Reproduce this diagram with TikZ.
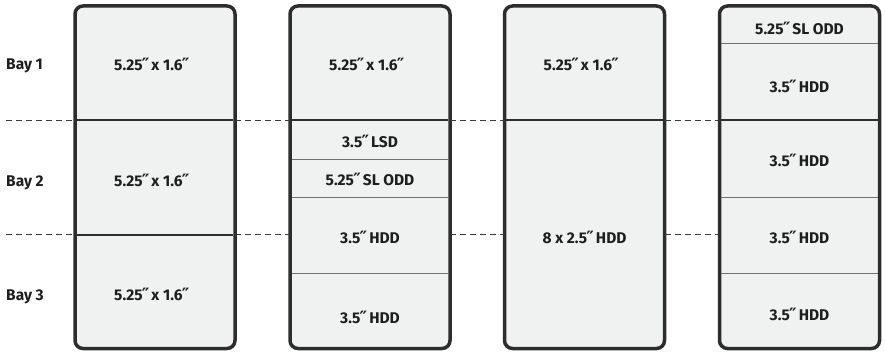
\documentclass[tikz,border=0pt]{standalone}
\usepackage{fontspec}
\setmainfont{Fira Sans}
\newfontfamily\quotefont{DejaVu Sans}
\definecolor{bordercol}{HTML}{2D2D2D}
\definecolor{boxfill}{HTML}{F0F1F1}
\definecolor{thincol}{HTML}{707070}
\definecolor{dashcol}{HTML}{3A3A3A}
\definecolor{textcol}{HTML}{1E1E1E}
\newcommand{\dq}{{\quotefont\bfseries\fontsize{17}{17}\selectfont\kern-0.8pt ″\kern-1.6pt}}
\begin{document}
\begin{tikzpicture}[x=1pt,y=-1pt,
  colbox/.style={draw=bordercol, fill=boxfill, line width=3.5pt, rounded corners=8pt,
    minimum width=160pt, minimum height=342.5pt, inner sep=0pt, outer sep=0pt},
  bayline/.style={draw=bordercol, line width=2pt, shorten <=1.75pt, shorten >=1.75pt},
  thinline/.style={draw=thincol, line width=1pt, shorten <=1.75pt, shorten >=1.75pt},
  dashline/.style={draw=dashcol, line width=1pt, dash pattern=on 6pt off 4pt},
  lbl/.style={anchor=base, font=\bfseries\fontsize{15.5}{17}\selectfont, text=textcol, inner sep=0pt},
  baylbl/.style={lbl, anchor=base west},
]
\useasboundingbox (0,0) rectangle (885,352);

% columns
\node[colbox] (c1) at (155,177.25) {};
\node[colbox] (c2) at (370,177.25) {};
\node[colbox] (c3) at (584.5,177.25) {};
\node[colbox] (c4) at (799.5,177.25) {};

% reference heights
\coordinate (b1) at (6,120.5);
\coordinate (b2) at (6,234.8);
\coordinate (t43) at (0,43.5);
\coordinate (t159) at (0,159.2);
\coordinate (t197) at (0,197.3);
\coordinate (t273) at (0,273.2);

% dashed bay separators
\draw[dashline] (b1) -- (c1.west |- b1);
\draw[dashline] (c1.east |- b1) -- (c2.west |- b1);
\draw[dashline] (c2.east |- b1) -- (c3.west |- b1);
\draw[dashline] (c3.east |- b1) -- (c4.west |- b1);
\draw[dashline] (b2) -- (c1.west |- b2);
\draw[dashline] (c1.east |- b2) -- (c2.west |- b2);
\draw[dashline] (c2.east |- b2) -- (c3.west |- b2);
\draw[dashline] (c3.east |- b2) -- (c4.west |- b2);

% inner dividers
\draw[bayline] (c1.west |- b1) -- (c1.east |- b1);
\draw[bayline] (c1.west |- b2) -- (c1.east |- b2);
\draw[bayline] (c2.west |- b1) -- (c2.east |- b1);
\draw[thinline] (c2.west |- t159) -- (c2.east |- t159);
\draw[thinline] (c2.west |- t197) -- (c2.east |- t197);
\draw[thinline] (c2.west |- t273) -- (c2.east |- t273);
\draw[bayline] (c3.west |- b1) -- (c3.east |- b1);
\draw[thinline] (c4.west |- t43) -- (c4.east |- t43);
\draw[bayline] (c4.west |- b1) -- (c4.east |- b1);
\draw[thinline] (c4.west |- t197) -- (c4.east |- t197);
\draw[thinline] (c4.west |- t273) -- (c4.east |- t273);

% bay labels
\node[baylbl] (bay1) at (6,70) {Bay 1};
\node[baylbl] (bay2) at (6,187) {Bay 2};
\node[baylbl] (bay3) at (6,300.5) {Bay 3};

% column 1
\node[lbl] (c1a) at (151,70.5) {5.25\dq{} x 1.6\dq};
\node[lbl] (c1b) at (151,187) {5.25\dq{} x 1.6\dq};
\node[lbl] (c1c) at (151,300.5) {5.25\dq{} x 1.6\dq};

% column 2
\node[lbl] (c2a) at (366,70.5) {5.25\dq{} x 1.6\dq};
\node[lbl] (c2b) at (370,147.5) {3.5\dq{} LSD};
\node[lbl] (c2c) at (370,186) {5.25\dq{} SL ODD};
\node[lbl] (c2d) at (370,244) {3.5\dq{} HDD};
\node[lbl] (c2e) at (370,323) {3.5\dq{} HDD};

% column 3
\node[lbl] (c3a) at (580.5,70.5) {5.25\dq{} x 1.6\dq};
\node[lbl] (c3b) at (584.5,243.5) {8 x 2.5\dq{} HDD};

% column 4
\node[lbl] (c4a) at (799.5,34.3) {5.25\dq{} SL ODD};
\node[lbl] (c4b) at (799.5,92.3) {3.5\dq{} HDD};
\node[lbl] (c4c) at (799.5,166.5) {3.5\dq{} HDD};
\node[lbl] (c4d) at (799.5,244) {3.5\dq{} HDD};
\node[lbl] (c4e) at (799.5,320) {3.5\dq{} HDD};
\end{tikzpicture}
\end{document}
